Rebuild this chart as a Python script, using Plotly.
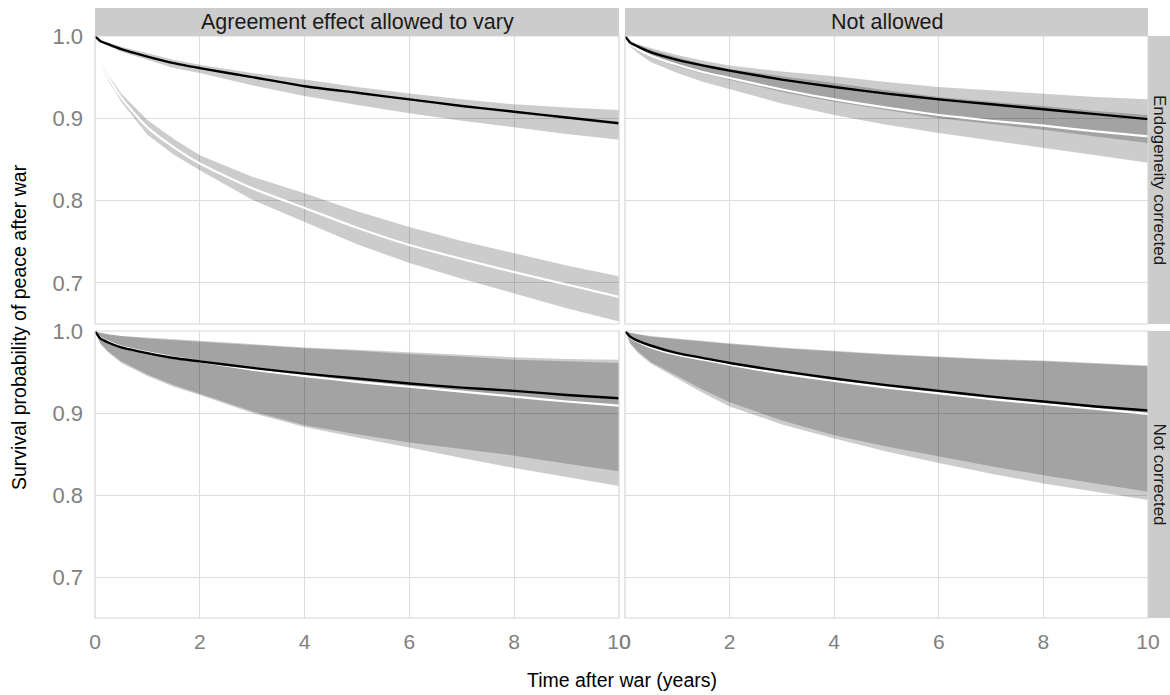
import plotly.graph_objects as go

# ---------------- data ----------------
t = [0, 0.1, 0.25, 0.5, 1, 1.5, 2, 3, 4, 5, 6, 7, 8, 9, 10]

# Top-left: Endogeneity corrected / Agreement effect allowed to vary
tl_black    = [1.0, 0.994, 0.990, 0.984, 0.975, 0.967, 0.961, 0.950, 0.939, 0.931, 0.923, 0.915, 0.908, 0.901, 0.894]
tl_black_hi = [1.0, 0.995, 0.992, 0.987, 0.979, 0.971, 0.965, 0.955, 0.947, 0.938, 0.930, 0.923, 0.917, 0.913, 0.910]
tl_black_lo = [1.0, 0.993, 0.988, 0.981, 0.971, 0.961, 0.955, 0.940, 0.927, 0.916, 0.906, 0.897, 0.889, 0.881, 0.874]
tl_white    = [1.0, 0.968, 0.950, 0.925, 0.889, 0.865, 0.845, 0.815, 0.791, 0.767, 0.746, 0.729, 0.713, 0.698, 0.683]
tl_white_hi = [1.0, 0.970, 0.953, 0.930, 0.898, 0.875, 0.855, 0.829, 0.809, 0.787, 0.768, 0.751, 0.736, 0.721, 0.708]
tl_white_lo = [1.0, 0.966, 0.946, 0.920, 0.880, 0.856, 0.837, 0.801, 0.774, 0.747, 0.724, 0.705, 0.687, 0.669, 0.653]

# Top-right: Endogeneity corrected / Not allowed
tr_black    = [1.0, 0.992, 0.987, 0.980, 0.971, 0.964, 0.958, 0.947, 0.938, 0.930, 0.923, 0.917, 0.911, 0.905, 0.899]
tr_black_hi = [1.0, 0.994, 0.990, 0.985, 0.977, 0.970, 0.964, 0.957, 0.951, 0.944, 0.938, 0.934, 0.930, 0.926, 0.923]
tr_black_lo = [1.0, 0.990, 0.984, 0.975, 0.963, 0.954, 0.947, 0.932, 0.920, 0.910, 0.900, 0.893, 0.886, 0.878, 0.870]
tr_white    = [1.0, 0.990, 0.984, 0.976, 0.965, 0.956, 0.949, 0.935, 0.923, 0.913, 0.904, 0.897, 0.891, 0.884, 0.878]
tr_white_hi = [1.0, 0.993, 0.989, 0.983, 0.974, 0.966, 0.960, 0.951, 0.943, 0.934, 0.926, 0.920, 0.915, 0.909, 0.904]
tr_white_lo = [1.0, 0.987, 0.979, 0.968, 0.955, 0.944, 0.935, 0.918, 0.904, 0.892, 0.882, 0.873, 0.864, 0.855, 0.846]

# Bottom-left: Not corrected / Agreement effect allowed to vary
bl_black    = [1.0, 0.991, 0.986, 0.980, 0.973, 0.967, 0.963, 0.955, 0.948, 0.942, 0.936, 0.931, 0.927, 0.922, 0.918]
bl_black_hi = [1.0, 0.998, 0.996, 0.994, 0.992, 0.990, 0.988, 0.984, 0.980, 0.977, 0.974, 0.971, 0.968, 0.966, 0.965]
bl_black_lo = [1.0, 0.985, 0.975, 0.963, 0.947, 0.934, 0.923, 0.902, 0.885, 0.874, 0.864, 0.856, 0.848, 0.838, 0.829]
bl_white    = [1.0, 0.992, 0.987, 0.981, 0.974, 0.968, 0.963, 0.953, 0.945, 0.938, 0.932, 0.926, 0.920, 0.914, 0.909]
bl_white_hi = [1.0, 0.998, 0.996, 0.994, 0.991, 0.989, 0.987, 0.983, 0.979, 0.976, 0.972, 0.969, 0.965, 0.963, 0.961]
bl_white_lo = [1.0, 0.984, 0.974, 0.961, 0.945, 0.932, 0.922, 0.900, 0.883, 0.870, 0.858, 0.845, 0.833, 0.822, 0.811]

# Bottom-right: Not corrected / Not allowed
br_black    = [1.0, 0.993, 0.988, 0.982, 0.973, 0.967, 0.961, 0.951, 0.942, 0.934, 0.927, 0.920, 0.914, 0.908, 0.903]
br_black_hi = [1.0, 0.998, 0.996, 0.994, 0.991, 0.988, 0.985, 0.980, 0.976, 0.972, 0.969, 0.966, 0.964, 0.961, 0.958]
br_black_lo = [1.0, 0.985, 0.975, 0.962, 0.945, 0.928, 0.913, 0.891, 0.873, 0.859, 0.847, 0.835, 0.824, 0.814, 0.804]
br_white    = [1.0, 0.992, 0.987, 0.980, 0.971, 0.965, 0.959, 0.948, 0.939, 0.931, 0.924, 0.917, 0.911, 0.905, 0.899]
br_white_hi = [1.0, 0.998, 0.996, 0.993, 0.990, 0.987, 0.984, 0.979, 0.975, 0.971, 0.968, 0.965, 0.963, 0.960, 0.957]
br_white_lo = [1.0, 0.984, 0.973, 0.960, 0.942, 0.924, 0.908, 0.886, 0.869, 0.853, 0.839, 0.826, 0.814, 0.804, 0.794]

col_labels = ["Agreement effect allowed to vary", "Not allowed"]
row_labels = ["Endogeneity corrected", "Not corrected"]
x_ticks = [0, 2, 4, 6, 8, 10]
y_ticks = [0.7, 0.8, 0.9, 1.0]
x_title = "Time after war (years)"
y_title = "Survival probability of peace after war"

# ---------------- layout geometry ----------------
# Body margin is removed by a small post script, so the figure fills the window.
W, H = 1170, 695
FONT = "Liberation Sans, Arial, Helvetica, sans-serif"

def px_x(p):
    return p / W

def px_y(p):
    return 1 - p / H

col_px = [(95, 619), (625, 1148)]
row_px = [(36, 324), (331, 618)]
strip_top_px = (8, 36)
strip_right_px = (1148, 1170)

panels = [
    (0, 0, (tl_black, tl_black_hi, tl_black_lo, tl_white, tl_white_hi, tl_white_lo)),
    (0, 1, (tr_black, tr_black_hi, tr_black_lo, tr_white, tr_white_hi, tr_white_lo)),
    (1, 0, (bl_black, bl_black_hi, bl_black_lo, bl_white, bl_white_hi, bl_white_lo)),
    (1, 1, (br_black, br_black_hi, br_black_lo, br_white, br_white_hi, br_white_lo)),
]

fig = go.Figure()
layout_axes = {}
shapes = []
annotations = []

grid_col = "#dcdcdc"
tick_col = "#808080"

for i, (r, c, s) in enumerate(panels):
    k = "" if i == 0 else str(i + 1)
    xa, ya = "x" + k, "y" + k
    b, bhi, blo, w, whi, wlo = s
    band = "rgba(0,0,0,0.2)"
    for hi, lo in ((bhi, blo), (whi, wlo)):
        fig.add_trace(go.Scatter(
            x=t + t[::-1], y=hi + lo[::-1], fill="toself", fillcolor=band,
            line=dict(width=0), mode="lines", hoverinfo="skip",
            showlegend=False, xaxis=xa, yaxis=ya))
    fig.add_trace(go.Scatter(x=t, y=w, mode="lines",
                             line=dict(color="white", width=2.2, shape="spline", smoothing=0.6),
                             showlegend=False, xaxis=xa, yaxis=ya))
    fig.add_trace(go.Scatter(x=t, y=b, mode="lines",
                             line=dict(color="black", width=2.4, shape="spline", smoothing=0.6),
                             showlegend=False, xaxis=xa, yaxis=ya))

    x0, x1 = col_px[c]
    y0, y1 = row_px[r]
    layout_axes["xaxis" + k] = dict(
        domain=[px_x(x0), px_x(x1)], range=[0, 10], anchor=ya, automargin=False,
        tickvals=x_ticks, showticklabels=(r == 1), showgrid=True, gridcolor=grid_col,
        gridwidth=1, zeroline=False, showline=False, ticks="",
        tickfont=dict(family=FONT, size=21, color=tick_col), ticklabelstandoff=9)
    layout_axes["yaxis" + k] = dict(
        domain=[px_y(y1), px_y(y0)], range=[0.65, 1.0], anchor=xa, automargin=False,
        tickvals=y_ticks, ticktext=[f"{v:.1f}" for v in y_ticks],
        showticklabels=(c == 0), showgrid=True, gridcolor=grid_col,
        gridwidth=1, zeroline=False, showline=False, ticks="",
        tickfont=dict(family=FONT, size=22, color=tick_col), ticklabelstandoff=11)
    shapes.append(dict(type="rect", xref="paper", yref="paper",
                       x0=px_x(x0), x1=px_x(x1), y0=px_y(y1), y1=px_y(y0),
                       line=dict(color="#d6d6d6", width=1.2), fillcolor="rgba(0,0,0,0)", layer="above"))

for c, lab in enumerate(col_labels):
    x0, x1 = col_px[c]
    shapes.append(dict(type="rect", xref="paper", yref="paper",
                       x0=px_x(x0), x1=px_x(x1), y0=px_y(strip_top_px[1]), y1=px_y(strip_top_px[0]),
                       fillcolor="#cccccc", line=dict(width=0), layer="below"))
    annotations.append(dict(text=lab, xref="paper", yref="paper",
                            x=px_x((x0 + x1) / 2), y=px_y(sum(strip_top_px) / 2),
                            showarrow=False, xanchor="center", yanchor="middle",
                            font=dict(family=FONT, size=21.5, color="#1a1a1a")))
for r, lab in enumerate(row_labels):
    y0, y1 = row_px[r]
    shapes.append(dict(type="rect", xref="paper", yref="paper",
                       x0=px_x(strip_right_px[0]), x1=px_x(strip_right_px[1]), y0=px_y(y1), y1=px_y(y0),
                       fillcolor="#cccccc", line=dict(width=0), layer="below"))
    annotations.append(dict(text=lab, xref="paper", yref="paper",
                            x=px_x(sum(strip_right_px) / 2), y=px_y((y0 + y1) / 2),
                            showarrow=False, xanchor="center", yanchor="middle", textangle=90,
                            font=dict(family=FONT, size=17, color="#1a1a1a")))

annotations.append(dict(text=x_title, xref="paper", yref="paper",
                        x=px_x((col_px[0][0] + col_px[1][1]) / 2), y=px_y(680),
                        showarrow=False, xanchor="center", yanchor="middle",
                        font=dict(family=FONT, size=19.5, color="black")))
annotations.append(dict(text=y_title, xref="paper", yref="paper",
                        x=px_x(19), y=px_y((row_px[0][0] + row_px[1][1]) / 2),
                        showarrow=False, xanchor="center", yanchor="middle", textangle=-90,
                        font=dict(family=FONT, size=19.5, color="black")))

fig.update_layout(
    template="none",
    width=W, height=H, margin=dict(l=0, r=0, t=0, b=0, pad=0),
    paper_bgcolor="white", plot_bgcolor="white",
    shapes=shapes, annotations=annotations, showlegend=False,
    **layout_axes)

fig.write_html("out.html",
               config={"displayModeBar": False},
               post_script="document.body.style.margin='0px';document.body.style.overflow='hidden';")
